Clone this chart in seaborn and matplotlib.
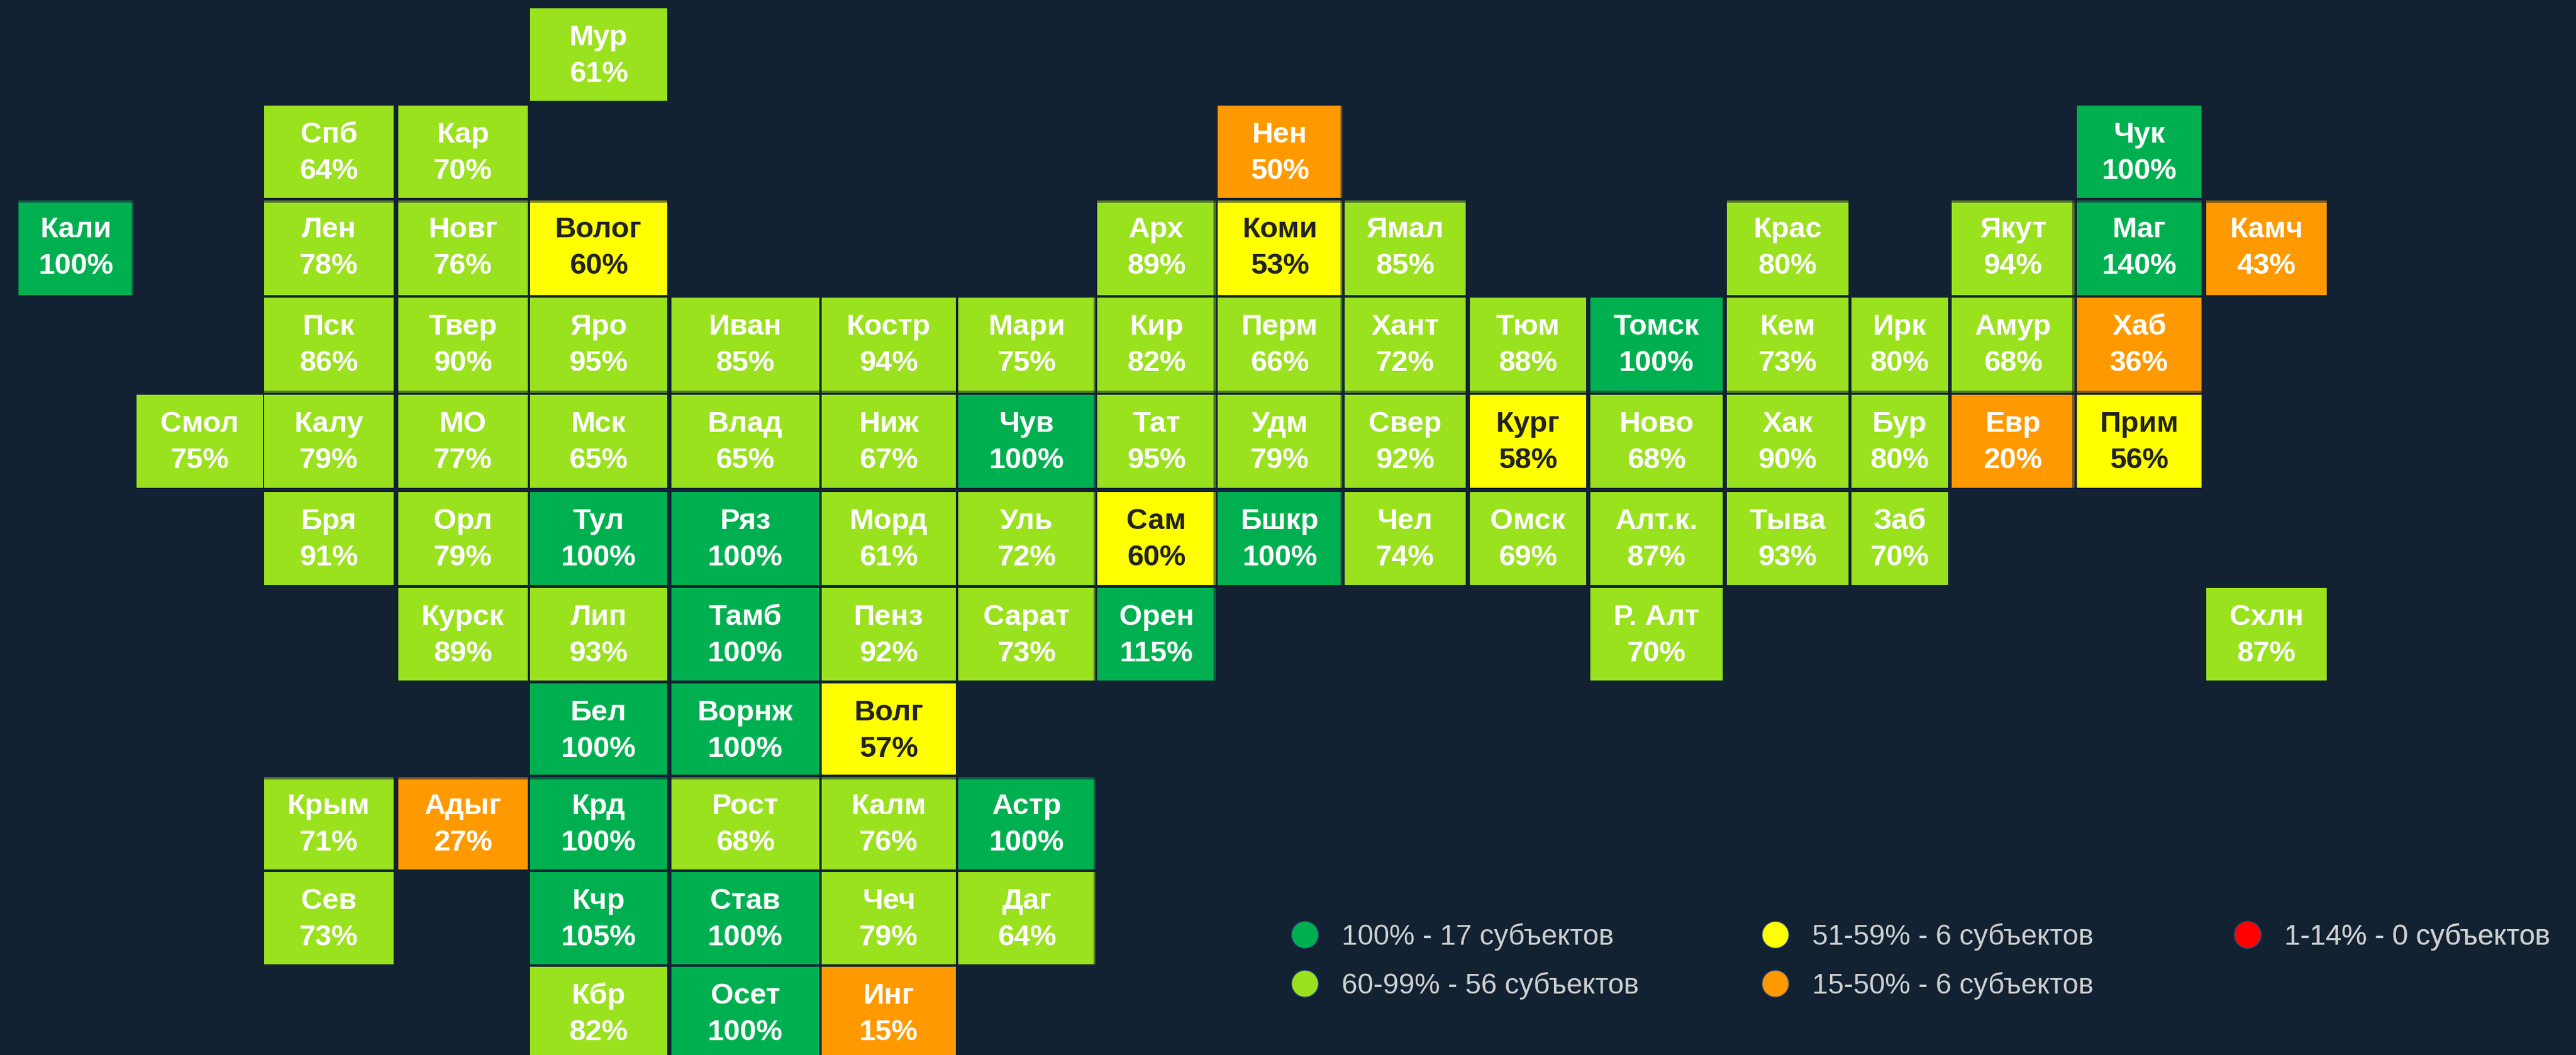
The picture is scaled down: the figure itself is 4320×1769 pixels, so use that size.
import numpy as np
import pandas as pd
import matplotlib
matplotlib.use("Agg")
import matplotlib.pyplot as plt
from matplotlib.colors import ListedColormap, BoundaryNorm
from matplotlib.lines import Line2D
import seaborn as sns

# ---------- data ----------
row0_names = ["Мур"]; row0_cols = [4]; row0_vals = [61]
row1_names = ["Спб", "Кар", "Нен", "Чук"]; row1_cols = [2, 3, 9, 16]; row1_vals = [64, 70, 50, 100]
row2_names = ["Кали", "Лен", "Новг", "Волог", "Арх", "Коми", "Ямал", "Крас", "Якут", "Маг", "Камч"]
row2_cols = [0, 2, 3, 4, 8, 9, 10, 13, 15, 16, 17]
row2_vals = [100, 78, 76, 60, 89, 53, 85, 80, 94, 140, 43]
row3_names = ["Пск", "Твер", "Яро", "Иван", "Костр", "Мари", "Кир", "Перм", "Хант", "Тюм", "Томск", "Кем", "Ирк", "Амур", "Хаб"]
row3_cols = [2, 3, 4, 5, 6, 7, 8, 9, 10, 11, 12, 13, 14, 15, 16]
row3_vals = [86, 90, 95, 85, 94, 75, 82, 66, 72, 88, 100, 73, 80, 68, 36]
row4_names = ["Смол", "Калу", "МО", "Мск", "Влад", "Ниж", "Чув", "Тат", "Удм", "Свер", "Кург", "Ново", "Хак", "Бур", "Евр", "Прим"]
row4_cols = [1, 2, 3, 4, 5, 6, 7, 8, 9, 10, 11, 12, 13, 14, 15, 16]
row4_vals = [75, 79, 77, 65, 65, 67, 100, 95, 79, 92, 58, 68, 90, 80, 20, 56]
row5_names = ["Бря", "Орл", "Тул", "Ряз", "Морд", "Уль", "Сам", "Бшкр", "Чел", "Омск", "Алт.к.", "Тыва", "Заб"]
row5_cols = [2, 3, 4, 5, 6, 7, 8, 9, 10, 11, 12, 13, 14]
row5_vals = [91, 79, 100, 100, 61, 72, 60, 100, 74, 69, 87, 93, 70]
row6_names = ["Курск", "Лип", "Тамб", "Пенз", "Сарат", "Орен", "Р. Алт", "Схлн"]
row6_cols = [3, 4, 5, 6, 7, 8, 12, 17]
row6_vals = [89, 93, 100, 92, 73, 115, 70, 87]
row7_names = ["Бел", "Ворнж", "Волг"]; row7_cols = [4, 5, 6]; row7_vals = [100, 100, 57]
row8_names = ["Крым", "Адыг", "Крд", "Рост", "Калм", "Астр"]
row8_cols = [2, 3, 4, 5, 6, 7]; row8_vals = [71, 27, 100, 68, 76, 100]
row9_names = ["Сев", "Кчр", "Став", "Чеч", "Даг"]
row9_cols = [2, 4, 5, 6, 7]; row9_vals = [73, 105, 100, 79, 64]
row10_names = ["Кбр", "Осет", "Инг"]; row10_cols = [4, 5, 6]; row10_vals = [82, 100, 15]

all_names = [row0_names, row1_names, row2_names, row3_names, row4_names, row5_names,
             row6_names, row7_names, row8_names, row9_names, row10_names]
all_cols = [row0_cols, row1_cols, row2_cols, row3_cols, row4_cols, row5_cols,
            row6_cols, row7_cols, row8_cols, row9_cols, row10_cols]
all_vals = [row0_vals, row1_vals, row2_vals, row3_vals, row4_vals, row5_vals,
            row6_vals, row7_vals, row8_vals, row9_vals, row10_vals]

legend_col1 = ["100% - 17 субъектов", "60-99% - 56 субъектов"]
legend_col2 = ["51-59% - 6 субъектов", "15-50% - 6 субъектов"]
legend_col3 = ["1-14% - 0 субъектов"]

# ---------- style / layout ----------
BG = "#122233"
GREEN, LIME, YELLOW, ORANGE, RED = "#00B050", "#9AE11E", "#FFFF00", "#FF9900", "#FF0000"
class_bounds = [1, 15, 51, 61, 100, 1000]
class_colors = [RED, ORANGE, YELLOW, LIME, GREEN]

# Widths of the tile columns and rows differ: pixel edges define a piecewise axis scale.
X_EDGES = np.array([0, 31, 224, 229, 441, 443, 660, 668, 885, 889, 1119, 1126, 1374, 1378, 1603,
                    1607, 1837, 1840, 2039, 2042, 2251, 2255, 2458, 2465, 2660, 2667, 2889,
                    2896, 3100, 3105, 3267, 3273, 3479, 3483, 3692, 3700, 3902, 4320], float)
Y_EDGES = np.array([0, 14, 169, 177, 332, 336, 495, 499, 659, 662, 818, 825, 981, 986, 1141,
                    1146, 1299, 1303, 1458, 1462, 1617, 1621, 1769], float)
X_IDX = np.arange(len(X_EDGES), dtype=float)
Y_IDX = np.arange(len(Y_EDGES), dtype=float)

sns.set_theme(style="white")
plt.rcParams["font.family"] = ["Liberation Sans", "DejaVu Sans"]

W, H = 4320, 1769
fig = plt.figure(figsize=(W / 100, H / 100), dpi=100, facecolor=BG)
ax = fig.add_axes([0, 0, 1, 1])
ax.set_facecolor(BG)

# Matrix with gap rows/columns left empty between the tiles
grid = np.full((len(Y_EDGES) - 1, len(X_EDGES) - 1), np.nan)
for r, (cols, vals) in enumerate(zip(all_cols, all_vals)):
    for c, v in zip(cols, vals):
        grid[2 * r + 1, 2 * c + 1] = v
df = pd.DataFrame(grid)

sns.heatmap(df, ax=ax, cmap=ListedColormap(class_colors),
            norm=BoundaryNorm(class_bounds, len(class_colors)),
            cbar=False, xticklabels=False, yticklabels=False, linewidths=0)

fx = lambda v: np.interp(v, X_IDX, X_EDGES)
gx = lambda v: np.interp(v, X_EDGES, X_IDX)
fy = lambda v: np.interp(v, Y_IDX, Y_EDGES)
gy = lambda v: np.interp(v, Y_EDGES, Y_IDX)
ax.set_xscale("function", functions=(fx, gx))
ax.set_yscale("function", functions=(fy, gy))
ax.set_xlim(0, len(X_EDGES) - 1)
ax.set_ylim(len(Y_EDGES) - 1, 0)
ax.set_axis_off()

# Thin darker seams along some tile edges
for y0, y1 in [(336, 340), (655, 659), (1303, 1307)]:
    ax.axhspan(gy(y0), gy(y1), color=BG, alpha=0.55, lw=0, zorder=2)
for x0, x1 in [(221, 224), (1834, 1837), (2035, 2039), (2248, 2251), (3475, 3479)]:
    ax.axvspan(gx(x0), gx(x1), color=BG, alpha=0.55, lw=0, zorder=2)

# Tile labels
PX = 0.72  # points per pixel at 100 dpi
FS = 35.5
for r, (names, cols, vals) in enumerate(zip(all_names, all_cols, all_vals)):
    for name, c, v in zip(names, cols, vals):
        tcolor = "#222222" if 51 <= v < 61 else "white"
        xy = (2 * c + 1.5, 2 * r + 1.5)
        base = (Y_EDGES[2 * r + 1] + Y_EDGES[2 * r + 2]) / 2
        top = Y_EDGES[2 * r + 1]
        # keep line positions relative to a regular tile of 156 px
        shift = (base - (top + 78)) * PX
        ax.annotate(name, xy, xytext=(0, 16 * PX + shift), textcoords="offset points",
                    ha="center", va="baseline", fontsize=FS, fontweight="bold", color=tcolor, zorder=3)
        ax.annotate(f"{v}%", xy, xytext=(0, -45 * PX + shift), textcoords="offset points",
                    ha="center", va="baseline", fontsize=FS, fontweight="bold", color=tcolor, zorder=3)

# Legend: three separate columns
def add_legend(labels, colors, left_px, top_px):
    handles = [Line2D([], [], ls="none", marker="o", ms=45 * PX, mfc=c, mec="#2a4a78", mew=1) for c in colors]
    leg = ax.legend(handles, labels, loc="upper left", frameon=False, fontsize=34.4,
                    labelcolor="#cfcfcf", borderpad=0, borderaxespad=0, handlelength=1.0,
                    handletextpad=0.80, labelspacing=0.74,
                    bbox_to_anchor=(left_px / W, 1 - top_px / H), bbox_transform=fig.transFigure)
    ax.add_artist(leg)

add_legend(legend_col1, [GREEN, LIME], 2164, 1548)
add_legend(legend_col2, [YELLOW, ORANGE], 2953, 1548)
add_legend(legend_col3, [RED], 3745, 1548)

fig.savefig("out.png", dpi=100, facecolor=BG)
